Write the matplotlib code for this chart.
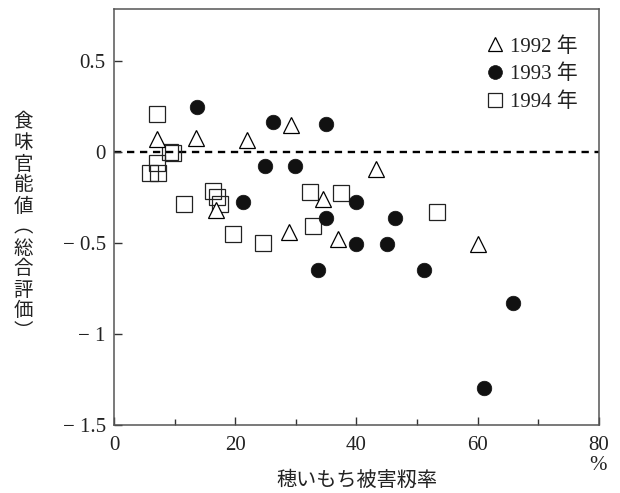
import matplotlib
matplotlib.use('Agg')
import matplotlib.pyplot as plt
from matplotlib.ticker import MultipleLocator

plt.rcParams['font.family'] = ['Liberation Serif', 'Noto Sans CJK JP']
plt.rcParams['axes.unicode_minus'] = True

# 1992 年 (triangles)
x92 = [7.1, 13.5, 21.9, 29.2, 43.3, 16.9, 28.8, 34.4, 36.9, 60.0]
y92 = [0.07, 0.075, 0.066, 0.147, -0.095, -0.32, -0.44, -0.26, -0.48, -0.507]
# 1993 年 (filled circles)
x93 = [13.7, 26.2, 34.9, 24.9, 29.9, 21.2, 39.9, 34.9, 46.3, 39.9, 45.1, 33.7, 51.1, 65.8, 61.1]
y93 = [0.25, 0.166, 0.154, -0.075, -0.077, -0.276, -0.276, -0.364, -0.364, -0.505, -0.505, -0.648, -0.648, -0.828, -1.295]
# 1994 年 (squares)
x94 = [7.05, 9.2, 9.8, 7.05, 5.95, 7.2, 11.5, 16.3, 17.0, 17.5, 19.7, 24.5, 32.4, 37.4, 32.9, 53.3]
y94 = [0.21, 0.0, -0.005, -0.062, -0.114, -0.114, -0.286, -0.212, -0.249, -0.286, -0.45, -0.498, -0.218, -0.227, -0.407, -0.33]

years = ['1992 年', '1993 年', '1994 年']
xticks = [0, 20, 40, 60, 80]
yticks = [0.5, 0, -0.5, -1, -1.5]

fig = plt.figure(figsize=(6.2, 4.93), dpi=100)
ax = fig.add_axes([0.1839, 0.138, 0.7821, 0.8437])

# 基準線 y=0
ax.axhline(0, color='black', lw=1.7, ls=(0, (3.1, 2.4)), zorder=1)

ax.plot(x92, y92, ls='none', marker='^', ms=11, mfc='white', mec='black', mew=0.9, label=years[0], zorder=3)
ax.plot(x93, y93, ls='none', marker='o', ms=10.5, mfc='#111111', mec='#111111', mew=0.5, label=years[1], zorder=3)
ax.plot(x94, y94, ls='none', marker='s', ms=11, mfc='none', mec='#222222', mew=0.9, label=years[2], zorder=2)

ax.set_xlim(0, 80)
ax.set_ylim(-1.5, 0.786)
ax.set_xticks(xticks)
ax.set_xticklabels([str(v) for v in xticks])
ax.xaxis.set_minor_locator(MultipleLocator(10))
ax.set_yticks(yticks)
ax.set_yticklabels(['0.5', '0', '\u2212 0.5', '\u2212 1', '\u2212 1.5'])

ax.tick_params(axis='both', which='both', direction='in', colors='#333333', labelcolor='#222222', labelsize=15)
ax.tick_params(axis='x', which='major', length=6, width=1, pad=8)
ax.tick_params(axis='x', which='minor', length=4, width=1)
ax.tick_params(axis='y', which='major', length=6, width=1, pad=6)
for s in ax.spines.values():
    s.set_color('#555555')
    s.set_linewidth(1.1)

leg = ax.legend(loc='upper right', bbox_to_anchor=(1.0, 0.983), frameon=False, fontsize=15,
                handlelength=0.9, handletextpad=0.3, labelspacing=0.4, borderaxespad=0.6,
                markerscale=0.95)
for t in leg.get_texts():
    t.set_color('#222222')

fig.text(598 / 620, 1 - 465 / 493, '%', ha='center', va='center', fontsize=15, color='#222222')
fig.text(357 / 620, 1 - 480 / 493, '穂いもち被害籾率', ha='center', va='center',
         fontsize=14.5, family=['Noto Sans CJK JP'], color='#222222')
ylab = '\n'.join('食味官能値︵総合評価︶')
fig.text(23 / 620, 1 - 227 / 493, ylab, ha='center', va='center', fontsize=14,
         family=['Noto Sans CJK JP'], linespacing=1.0, color='#222222')

fig.savefig('out.png', dpi=100)
